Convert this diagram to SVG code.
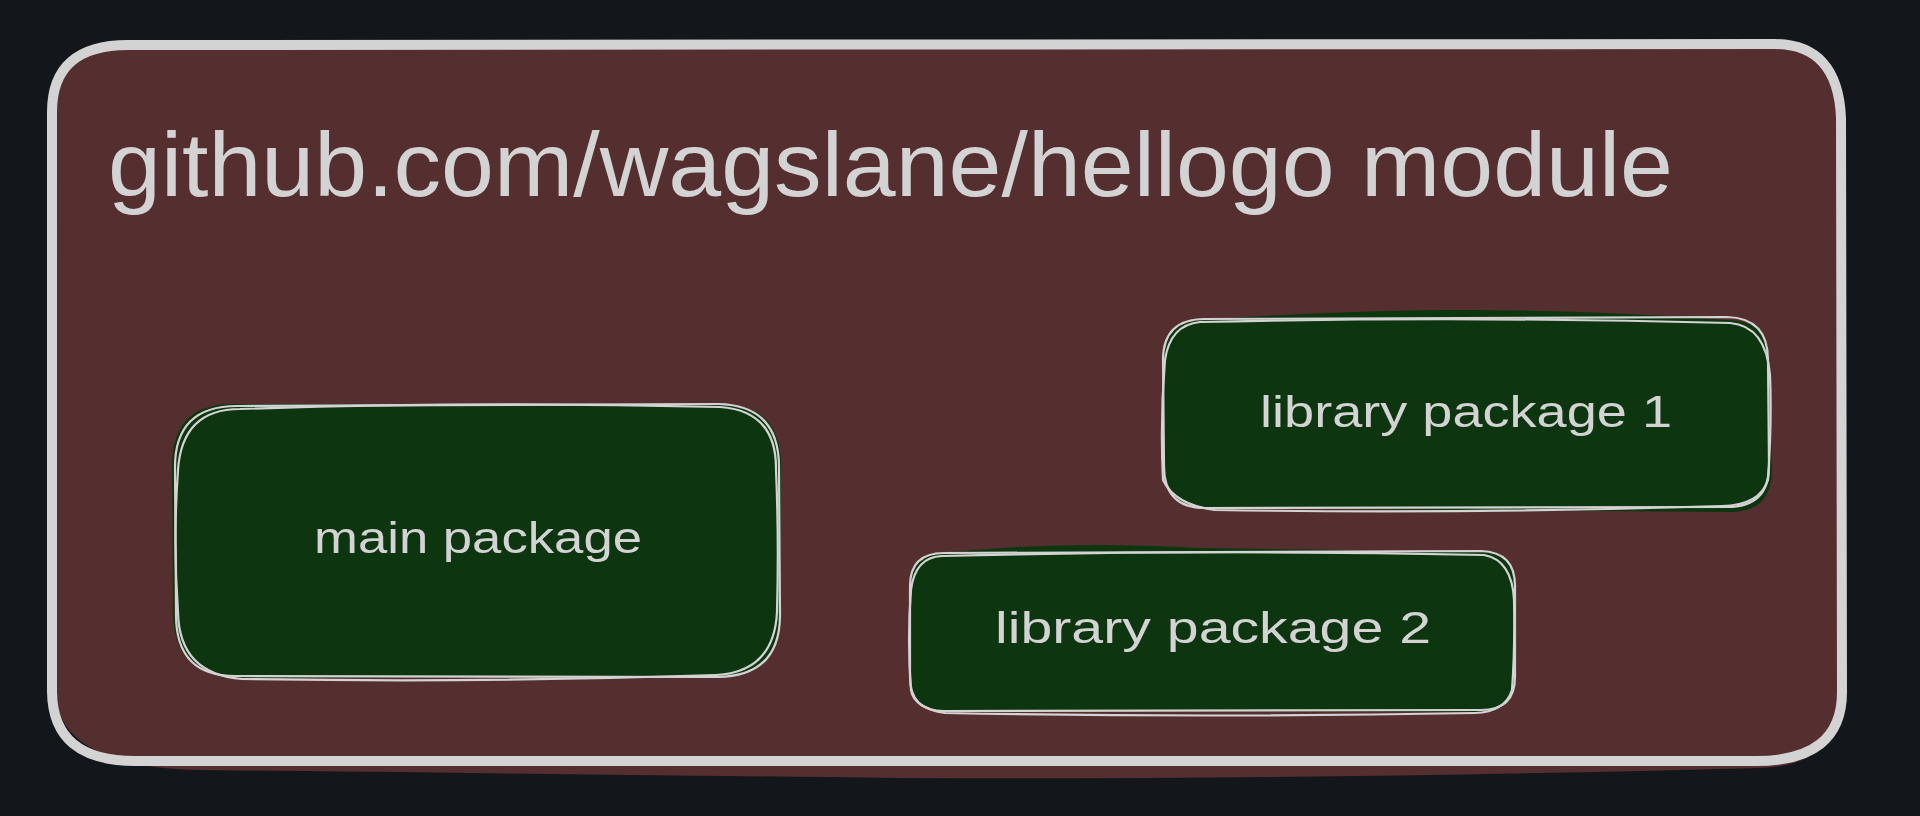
<svg xmlns="http://www.w3.org/2000/svg" width="1920" height="816" viewBox="0 0 1920 816">
  <style>
    .bg { fill: #13171c; }
    .modfill { fill: #552f2f; stroke: none; }
    .modstroke { fill: none; stroke: #d3d3d3; stroke-width: 10; stroke-linejoin: round; stroke-linecap: round; }
    .pkgfill { fill: #0d3610; stroke: none; }
    .pkgstroke { fill: none; stroke: #d3d3d3; stroke-width: 2.2; stroke-linejoin: round; stroke-linecap: round; }
    .title { font-family: "Liberation Sans", "DejaVu Sans", sans-serif; font-size: 90px; fill: #d3d3d3; }
    .label { font-family: "Liberation Sans", "DejaVu Sans", sans-serif; font-size: 44px; fill: #d3d3d3; }
  </style>
  <rect class="bg" x="0" y="0" width="1920" height="816"/>

  <g id="module">
    <path class="modfill" d="M120,48 L1770,46 Q1838,46 1838,115 L1840,700 Q1840,765 1760,768 Q1300,780 900,778 Q400,772 200,770 Q58,768 55,690 L54,115 Q54,48 120,48 Z"/>
    <path class="modstroke" d="M128,45 L1774,44 Q1838,44 1841,118 L1842,692 Q1842,761 1756,761 L135,761 Q53,761 52,692 L52,112 Q52,45 128,45 Z"/>
    <text class="title" x="108" y="196" textLength="1565" lengthAdjust="spacingAndGlyphs">github.com/wagslane/hellogo module</text>
  </g>

  <g id="main-package">
    <path class="pkgfill" d="M232,404 L720,404 Q781,404 781,466 L781,614 Q781,676 720,676 L240,678 Q175,678 173,615 L172,466 Q172,404 232,404 Z"/>
    <path class="pkgstroke" d="M237,406 L718,404 Q779,405 779,467 L780,615 Q780,676 718,677 L237,676 Q176,677 176,615 L175,467 Q175,406 237,406 Z"/>
    <path class="pkgstroke" d="M240,409 Q480,401 720,407 Q777,411 776,470 Q779,540 777,612 Q774,672 716,675 Q480,683 242,679 Q179,674 178,612 Q173,540 178,470 Q182,409 240,409 Z"/>
    <text class="label" x="314" y="553" textLength="328" lengthAdjust="spacingAndGlyphs">main package</text>
  </g>

  <g id="library-package-1">
    <path class="pkgfill" d="M1205,320 Q1466,300 1727,320 Q1769,320 1769,360 L1772,470 Q1772,512 1730,512 L1205,508 Q1163,508 1163,466 L1163,360 Q1163,320 1205,320 Z"/>
    <path class="pkgstroke" d="M1205,319 L1727,317 Q1768,318 1768,360 L1769,466 Q1769,507 1727,507 L1205,508 Q1164,508 1164,466 L1163,360 Q1163,319 1205,319 Z"/>
    <path class="pkgstroke" d="M1200,322 Q1466,316 1730,323 Q1766,326 1770,375 Q1772,420 1768,480 Q1760,505 1722,506 Q1466,514 1215,510 Q1175,505 1163,480 Q1160,420 1165,360 Q1170,325 1200,322 Z"/>
    <text class="label" x="1260" y="427" textLength="412" lengthAdjust="spacingAndGlyphs">library package 1</text>
  </g>

  <g id="library-package-2">
    <path class="pkgfill" d="M945,553 Q1060,540 1200,548 L1480,552 Q1516,552 1516,588 L1516,676 Q1516,712 1480,712 L945,711 Q909,711 909,676 L909,588 Q909,553 945,553 Z"/>
    <path class="pkgstroke" d="M944,553 L1481,551 Q1515,552 1515,586 L1515,677 Q1515,710 1481,710 L944,711 Q910,711 910,677 L910,586 Q910,553 944,553 Z"/>
    <path class="pkgstroke" d="M942,556 Q1212,549 1484,555 Q1512,560 1514,600 Q1515,650 1512,690 Q1505,712 1475,713 Q1212,718 945,713 Q914,708 911,690 Q907,640 911,590 Q915,557 942,556 Z"/>
    <text class="label" x="995" y="643" textLength="436" lengthAdjust="spacingAndGlyphs">library package 2</text>
  </g>

  <g id="connectors"/>
</svg>
